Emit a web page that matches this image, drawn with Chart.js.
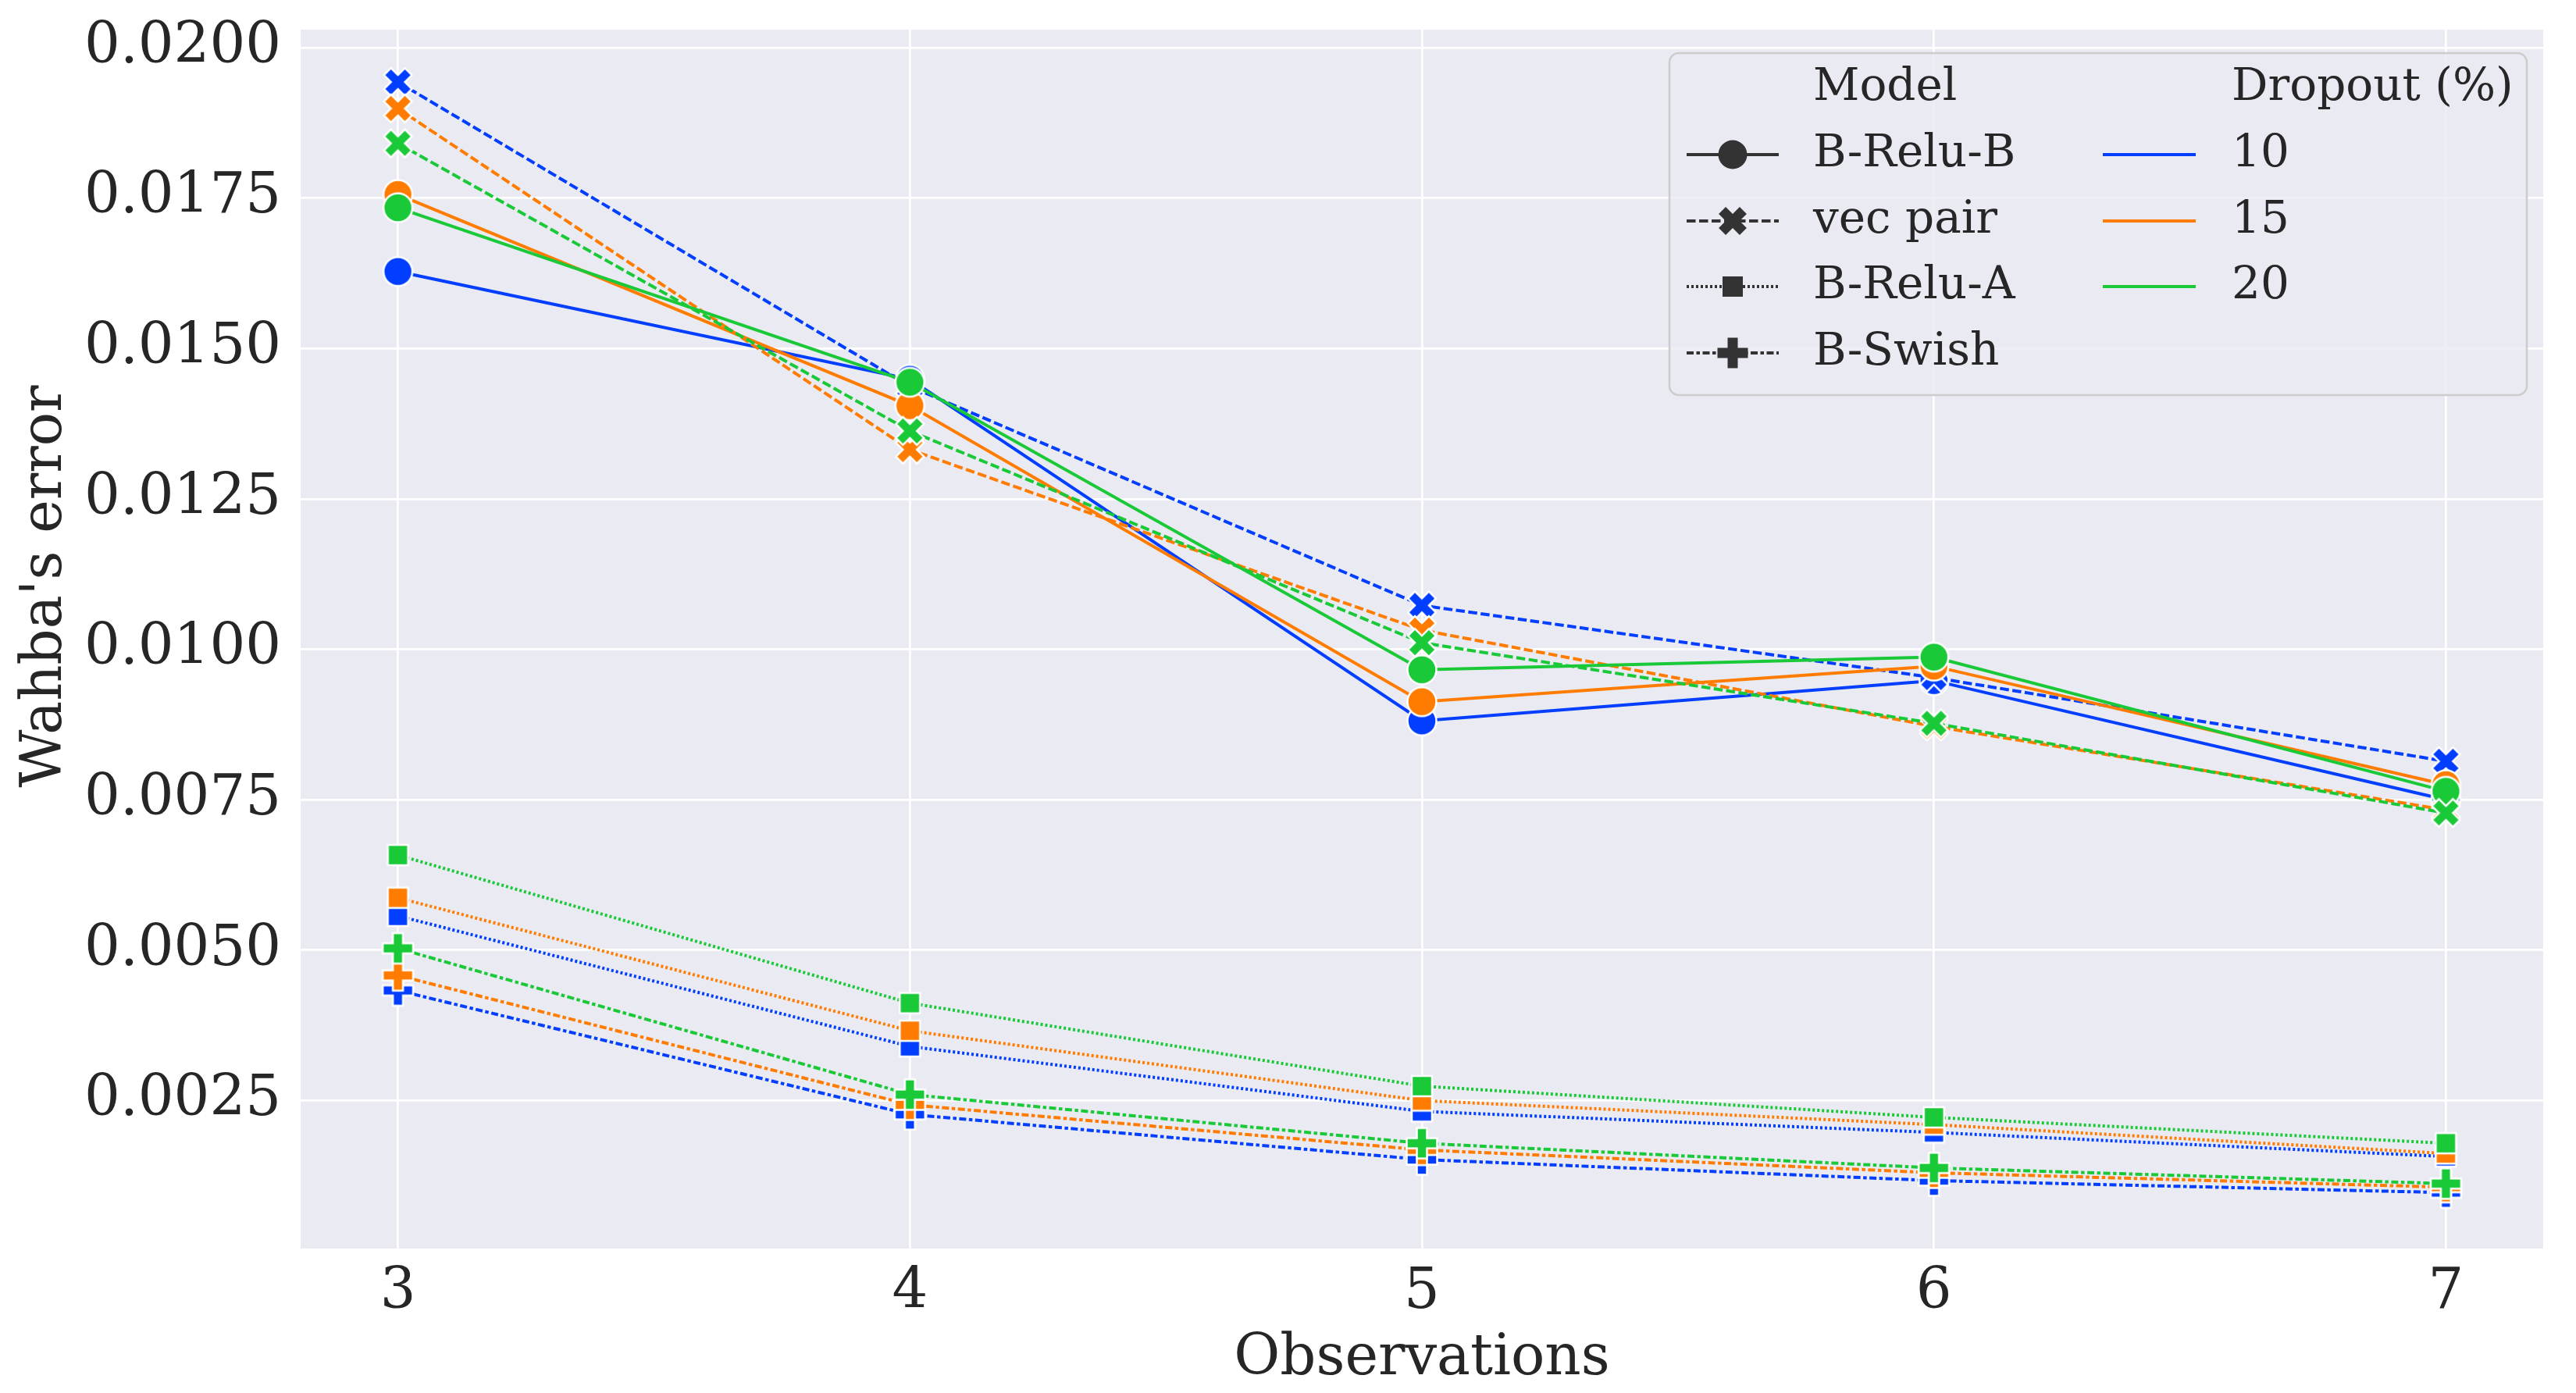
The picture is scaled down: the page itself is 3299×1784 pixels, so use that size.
<!DOCTYPE html>
<html>
<head>
<meta charset="utf-8">
<script src="https://cdn.jsdelivr.net/npm/chart.js@4.4.0/dist/chart.umd.min.js"></script>
<style>
  html, body { margin: 0; padding: 0; background: #ffffff; }
  #wrap { width: 3299px; height: 1784px; }
</style>
</head>
<body>
<div id="wrap"><canvas id="myChart"></canvas></div>
<script>
var observations = [3, 4, 5, 6, 7];
var dropouts = ["10", "15", "20"];
var models = ["B-Relu-B", "vec pair", "B-Relu-A", "B-Swish"];
var yTicks = [0.0025, 0.0050, 0.0075, 0.0100, 0.0125, 0.0150, 0.0175, 0.0200];

// Wahba's error per model, one array per dropout level
var reluB10 = [0.01628, 0.01449, 0.00881, 0.00948, 0.00750];
var reluB15 = [0.01756, 0.01405, 0.00913, 0.00972, 0.00775];
var reluB20 = [0.01734, 0.01444, 0.00966, 0.00987, 0.00764];

var vecPair10 = [0.01943, 0.01437, 0.01073, 0.00953, 0.00814];
var vecPair15 = [0.01899, 0.01332, 0.01032, 0.00872, 0.00733];
var vecPair20 = [0.01841, 0.01363, 0.01011, 0.00877, 0.00728];

var reluA10 = [0.00557, 0.00340, 0.00232, 0.00197, 0.00157];
var reluA15 = [0.00587, 0.00366, 0.00250, 0.00210, 0.00162];
var reluA20 = [0.00658, 0.00412, 0.00274, 0.00222, 0.00179];

var swish10 = [0.00433, 0.00227, 0.00152, 0.00117, 0.00097];
var swish15 = [0.00458, 0.00243, 0.00168, 0.00130, 0.00106];
var swish20 = [0.00503, 0.00260, 0.00179, 0.00138, 0.00112];

var seriesTable = {
  "B-Relu-B": { "10": reluB10, "15": reluB15, "20": reluB20 },
  "vec pair": { "10": vecPair10, "15": vecPair15, "20": vecPair20 },
  "B-Relu-A": { "10": reluA10, "15": reluA15, "20": reluA20 },
  "B-Swish": { "10": swish10, "15": swish15, "20": swish20 }
};

var colors = { "10": "#023eff", "15": "#ff7c00", "20": "#1ac938" };
var shapes = ["circle", "x", "square", "plus"];
var dashes = [[], [11.5, 4.5], [3, 3], [9, 3.5, 4.5, 3.5]];
var textColor = "#262626";
var fontName = "'DejaVu Serif'";

Chart.defaults.font.family = fontName;
Chart.defaults.color = textColor;

function shapePath(ctx, shape) {
  ctx.beginPath();
  if (shape === "circle") {
    ctx.arc(0, 0, 18.5, 0, Math.PI * 2);
  } else if (shape === "square") {
    ctx.rect(-13, -13, 26, 26);
  } else {
    var h = shape === "plus" ? 19.5 : 19;
    var a = h / 3;
    var pts = [[-a, -h], [a, -h], [a, -a], [h, -a], [h, a], [a, a], [a, h], [-a, h], [-a, a], [-h, a], [-h, -a], [-a, -a]];
    var ang = shape === "x" ? Math.PI / 4 : 0;
    for (var i = 0; i < pts.length; i++) {
      var px = pts[i][0] * Math.cos(ang) - pts[i][1] * Math.sin(ang);
      var py = pts[i][0] * Math.sin(ang) + pts[i][1] * Math.cos(ang);
      if (i === 0) ctx.moveTo(px, py); else ctx.lineTo(px, py);
    }
    ctx.closePath();
  }
}

function markerImg(shape, color) {
  var c = document.createElement("canvas");
  c.width = 48;
  c.height = 48;
  var g = c.getContext("2d");
  g.translate(24, 24);
  shapePath(g, shape);
  g.fillStyle = color;
  g.fill();
  g.lineWidth = 2.5;
  g.strokeStyle = "#ffffff";
  g.stroke();
  return c;
}

var datasets = [];
var drawIndex = 0;
dropouts.forEach(function (d) {
  models.forEach(function (m, k) {
    datasets.push({
      label: m + " " + d,
      data: seriesTable[m][d].map(function (v, i) { return { x: observations[i], y: v }; }),
      borderColor: colors[d],
      backgroundColor: colors[d],
      borderWidth: 4,
      borderDash: dashes[k],
      pointStyle: markerImg(shapes[k], colors[d]),
      pointRadius: 12,
      tension: 0,
      fill: false,
      order: 100 - drawIndex
    });
    drawIndex++;
  });
});

var bgPlugin = {
  id: "bg",
  beforeDraw: function (chart) {
    var a = chart.chartArea;
    var ctx = chart.ctx;
    ctx.save();
    ctx.fillStyle = "#eaeaf2";
    ctx.fillRect(a.left, a.top, a.right - a.left, a.bottom - a.top);
    ctx.restore();
  },
  afterDraw: function (chart) {
    // y axis title, placed where the reference has it
    var ctx = chart.ctx;
    ctx.save();
    ctx.translate(59, 751);
    ctx.rotate(-Math.PI / 2);
    ctx.font = "72px " + fontName;
    ctx.fillStyle = textColor;
    ctx.textAlign = "center";
    ctx.textBaseline = "middle";
    ctx.fillText("Wahba's error", 0, 0);
    ctx.restore();
  }
};

var legendPlugin = {
  id: "twoColLegend",
  afterDraw: function (chart) {
    var ctx = chart.ctx;
    var bx = 2138, by = 68, bw = 1098, bh = 438, r = 12;
    ctx.save();
    ctx.beginPath();
    ctx.moveTo(bx + r, by);
    ctx.arcTo(bx + bw, by, bx + bw, by + bh, r);
    ctx.arcTo(bx + bw, by + bh, bx, by + bh, r);
    ctx.arcTo(bx, by + bh, bx, by, r);
    ctx.arcTo(bx, by, bx + bw, by, r);
    ctx.closePath();
    ctx.fillStyle = "rgba(234,234,242,0.8)";
    ctx.fill();
    ctx.lineWidth = 2.5;
    ctx.strokeStyle = "#cccccc";
    ctx.stroke();

    ctx.font = "58px " + fontName;
    ctx.fillStyle = textColor;
    ctx.textBaseline = "middle";
    ctx.textAlign = "left";
    var rowY = [113, 198, 283, 367, 452];
    ctx.fillText("Model", 2322, rowY[0]);
    ctx.fillText("Dropout (%)", 2858, rowY[0]);

    models.forEach(function (m, k) {
      var y = rowY[k + 1];
      ctx.save();
      ctx.strokeStyle = "#333333";
      ctx.lineWidth = 4;
      ctx.setLineDash(dashes[k]);
      ctx.beginPath();
      ctx.moveTo(2160, y);
      ctx.lineTo(2278, y);
      ctx.stroke();
      ctx.setLineDash([]);
      ctx.translate(2219, y);
      shapePath(ctx, shapes[k]);
      ctx.fillStyle = "#333333";
      ctx.fill();
      ctx.restore();
      ctx.fillText(m, 2322, y);
    });

    dropouts.forEach(function (d, k) {
      var y = rowY[k + 1];
      ctx.strokeStyle = colors[d];
      ctx.lineWidth = 4;
      ctx.beginPath();
      ctx.moveTo(2693, y);
      ctx.lineTo(2812, y);
      ctx.stroke();
      ctx.fillText(d, 2858, y);
    });
    ctx.restore();
  }
};

var ctx = document.getElementById("myChart").getContext("2d");
var myChart = new Chart(ctx, {
  type: "line",
  data: { datasets: datasets },
  options: {
    responsive: true,
    maintainAspectRatio: false,
    devicePixelRatio: 1,
    animation: false,
    events: [],
    layout: { padding: { top: 38, right: 42, left: 0, bottom: 0 } },
    plugins: {
      legend: { display: false },
      tooltip: { enabled: false }
    },
    scales: {
      x: {
        type: "linear",
        min: 2.81,
        max: 7.19,
        afterBuildTicks: function (scale) {
          scale.ticks = observations.map(function (v) { return { value: v }; });
        },
        afterFit: function (scale) {
          scale.height = 185;
          scale.paddingLeft = 0;
          scale.paddingRight = 0;
        },
        border: { display: false },
        grid: { color: "#ffffff", lineWidth: 2.7, drawTicks: false },
        ticks: { font: { size: 72 }, color: textColor, padding: 14, maxRotation: 0 },
        title: { display: true, text: "Observations", font: { size: 72 }, color: textColor, padding: { top: 0, bottom: 0 } }
      },
      y: {
        type: "linear",
        min: 0.00004,
        max: 0.0203,
        afterBuildTicks: function (scale) {
          scale.ticks = yTicks.map(function (v) { return { value: v }; });
        },
        afterFit: function (scale) {
          scale.width = 385;
          scale.paddingTop = 0;
          scale.paddingBottom = 0;
        },
        border: { display: false },
        grid: { color: "#ffffff", lineWidth: 2.7, drawTicks: false },
        ticks: {
          font: { size: 72 },
          color: textColor,
          padding: 25,
          callback: function (v) { return v.toFixed(4); }
        }
      }
    }
  },
  plugins: [bgPlugin, legendPlugin]
});
</script>
</body>
</html>
